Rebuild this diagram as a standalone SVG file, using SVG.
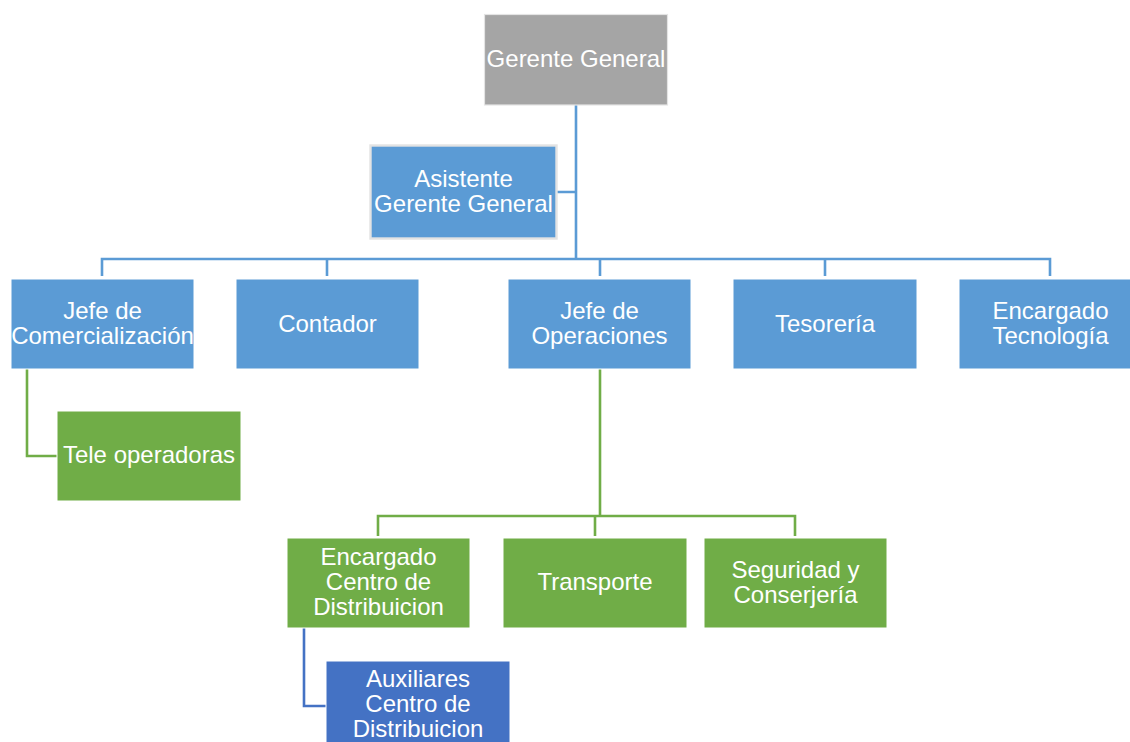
<svg xmlns="http://www.w3.org/2000/svg" width="1130" height="742" viewBox="0 0 1130 742">
<style>
.t{font-family:"Liberation Sans",Arial,sans-serif;font-size:24px;fill:#ffffff;text-anchor:middle}
.b{fill:#5B9BD5;stroke:#ffffff;stroke-width:1}
.g{fill:#70AD47;stroke:#ffffff;stroke-width:1}
.d{fill:#4472C4;stroke:#ffffff;stroke-width:1}
.c{fill:none;stroke-width:2.6}
.cb{stroke:#5B9BD5}
.cg{stroke:#70AD47}
.cd{stroke:#4472C4}
</style>
<rect width="1130" height="742" fill="#ffffff"/>
<g id="connectors">
<path class="c cb" d="M576,105 V259 M557,192 H576 M102,276 V259 H1050 V276 M327,259 V276 M600,259 V276 M825,259 V276"/>
<path class="c cg" d="M27,369 V456 H57 M600,369 V516 M378,536 V516 H795 V536 M595,516 V536"/>
<path class="c cd" d="M304,628 V706 H326"/>
</g>
<g id="gerente-general">
<rect x="484.5" y="14.5" width="183" height="90.5" fill="#A5A5A5" stroke="#e4e4e4" stroke-width="1.2"/>
<text class="t" x="576" y="67">Gerente General</text>
</g>
<g id="asistente">
<rect x="370.5" y="145.5" width="186" height="93" fill="#5B9BD5" stroke="#e3e3e3" stroke-width="2.4"/>
<text class="t" x="463.5" y="186.5">Asistente</text>
<text class="t" x="463.5" y="211.5">Gerente General</text>
</g>
<g id="jefe-comercializacion">
<rect class="b" x="11" y="279" width="183" height="90"/>
<text class="t" x="102.5" y="319">Jefe de</text>
<text class="t" x="102.5" y="344">Comercialización</text>
</g>
<g id="contador">
<rect class="b" x="236" y="279" width="183" height="90"/>
<text class="t" x="327.5" y="332">Contador</text>
</g>
<g id="jefe-operaciones">
<rect class="b" x="508" y="279" width="183" height="90"/>
<text class="t" x="599.5" y="319">Jefe de</text>
<text class="t" x="599.5" y="344">Operaciones</text>
</g>
<g id="tesoreria">
<rect class="b" x="733" y="279" width="184" height="90"/>
<text class="t" x="825" y="332">Tesorería</text>
</g>
<g id="encargado-tecnologia">
<rect class="b" x="959" y="279" width="183" height="90"/>
<text class="t" x="1050.5" y="319">Encargado</text>
<text class="t" x="1050.5" y="344">Tecnología</text>
</g>
<g id="tele-operadoras">
<rect class="g" x="57" y="411" width="184" height="90"/>
<text class="t" x="149" y="463">Tele operadoras</text>
</g>
<g id="encargado-centro">
<rect class="g" x="287" y="538" width="183" height="90"/>
<text class="t" x="378.5" y="565">Encargado</text>
<text class="t" x="378.5" y="590">Centro de</text>
<text class="t" x="378.5" y="615">Distribuicion</text>
</g>
<g id="transporte">
<rect class="g" x="503" y="538" width="184" height="90"/>
<text class="t" x="595" y="590">Transporte</text>
</g>
<g id="seguridad">
<rect class="g" x="704" y="538" width="183" height="90"/>
<text class="t" x="795.5" y="577.5">Seguridad y</text>
<text class="t" x="795.5" y="602.5">Conserjería</text>
</g>
<g id="auxiliares">
<rect class="d" x="326" y="661" width="184" height="90"/>
<text class="t" x="418" y="687">Auxiliares</text>
<text class="t" x="418" y="712">Centro de</text>
<text class="t" x="418" y="737">Distribuicion</text>
</g>
</svg>
